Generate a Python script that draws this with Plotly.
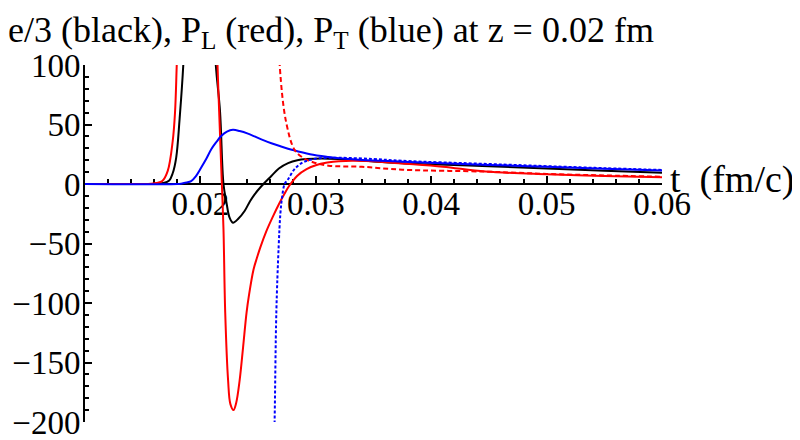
import numpy as np
import plotly.graph_objects as go

# e/3 (black)
t_e = [0.0100, 0.0155, 0.0163, 0.0168, 0.0173, 0.0176, 0.0179, 0.0182, 0.01856, 0.0192, 0.0200,
       0.0208, 0.02128, 0.0217, 0.0220, 0.02225, 0.02252, 0.02282, 0.0233, 0.02383, 0.0243, 0.0247,
       0.0253, 0.02615, 0.0268, 0.0276, 0.0284, 0.0292, 0.0305, 0.0320, 0.0350, 0.0375, 0.0400,
       0.0450, 0.0500, 0.0550, 0.0600]
e_black = [0, 0, 0.2, 0.8, 3, 9, 22, 55, 108, 300, 420,
           300, 108, 61, 0, -15, -28, -32.5, -29, -22.7, -14.5, -8.7,
           -1.7, 6.7, 13, 17.5, 20, 21, 21.5, 21, 19, 17.4, 16.5,
           15, 13, 11.2, 9.5]

# P_L (red, solid)
t_pl = [0.0100, 0.0150, 0.0157, 0.0162, 0.0167, 0.01717, 0.0176, 0.0178, 0.01795, 0.0185, 0.0195,
        0.0205, 0.0211, 0.02145, 0.02186, 0.0220, 0.02215, 0.0224, 0.0226, 0.02287, 0.0231, 0.0234,
        0.0237, 0.0240, 0.0242, 0.0246, 0.0249, 0.0252, 0.0257, 0.0263, 0.0268, 0.0273, 0.0277,
        0.0284, 0.0292, 0.0300, 0.0310, 0.0320, 0.0335, 0.0355, 0.0375, 0.0410, 0.0447, 0.0500,
        0.0550, 0.0600]
pl_red = [0, 0, 0.2, 0.8, 2.5, 11, 36, 60, 100, 280, 450,
          450, 250, 110, 0, -38, -108, -165, -185, -190, -184, -165,
          -137, -108, -94, -72, -62, -53, -40, -27, -17, -8, -1.5,
          7, 12.5, 15.8, 18, 19.2, 19.5, 18.7, 17.2, 14.5, 10.5, 8.2,
          6.8, 5.6]

# P_T (blue, solid)
t_pt = [0.0100, 0.0180, 0.01833, 0.0188, 0.0192, 0.0196, 0.02006, 0.0205, 0.02093, 0.0214, 0.0218,
        0.0223, 0.02282, 0.0234, 0.02412, 0.02528, 0.02615, 0.0270, 0.0280, 0.0295, 0.0311, 0.0325,
        0.0340, 0.0375, 0.0450, 0.0500, 0.0550, 0.0600]
pt_blue = [0, 0, 0.3, 1.2, 2.5, 6.5, 13.7, 21, 29, 35.5, 40.3,
           44, 45.5, 44.5, 42.3, 37.5, 34.2, 31.5, 28.6, 25, 22.7, 21.2,
           20.2, 18.8, 16, 14.5, 12.8, 11.3]

# P_L (red, dashed)
t_pl2 = [0.02645, 0.0266, 0.02687, 0.02745, 0.02817, 0.0289, 0.0297, 0.0311, 0.0340, 0.0375,
         0.0447, 0.0500, 0.0550, 0.0600]
pl2_red = [500, 200, 100, 51, 28.6, 22, 18.5, 15.4, 14.5, 12,
           10.4, 8.5, 7.2, 6.1]

# P_T (blue, dotted)
t_pt2 = [0.0263, 0.02643, 0.02658, 0.02678, 0.02693, 0.02708, 0.0273, 0.0276, 0.0282, 0.0290,
         0.0302, 0.0320, 0.0350, 0.0375, 0.0450, 0.0500, 0.0550, 0.0600]
pt2_blue = [-260, -200, -108, -53, -25, -11, 0, 4, 13, 18.7,
            21.5, 22, 21, 19.5, 16.8, 15, 13.3, 11.8]

x_ticks = [0.02, 0.03, 0.04, 0.05, 0.06]
y_ticks = [-200, -150, -100, -50, 0, 50, 100]

font = "Liberation Serif"

def curve(x, y, color, dash='solid'):
    return go.Scatter(x=x, y=y, mode='lines', hoverinfo='skip',
                      line=dict(color=color, width=2, dash=dash, shape='spline', smoothing=1.0))

fig = go.Figure()
fig.add_trace(curve(t_e, e_black, 'black'))
fig.add_trace(curve(t_pl, pl_red, '#ff0000'))
fig.add_trace(curve(t_pt, pt_blue, '#0000ff'))
fig.add_trace(curve(t_pl2, pl2_red, '#ff0000', '5px,3px'))
fig.add_trace(curve(t_pt2, pt2_blue, '#0000ff', '3px,2px'))

# page body has an 8px margin, so the figure is drawn 8px smaller and shifted
fig.update_layout(
    width=792, height=432,
    paper_bgcolor='white', plot_bgcolor='white',
    showlegend=False,
    margin=dict(l=77, r=138, t=57, b=18, autoexpand=False),
    font=dict(family=font, size=33, color='black'),
    title=dict(text="e/3 (black), P<sub>L</sub> (red), P<sub>T</sub> (blue) at z = 0.02 fm",
               xref='container', x=0.0, xanchor='left', pad=dict(l=0),
               yref='container', y=1 - 21 / 432, yanchor='middle',
               font=dict(family=font, size=36, color='black')),
    xaxis=dict(range=[0.01, 0.06], anchor='free', position=2/3, automargin=False,
               showgrid=False, zeroline=False,
               showline=True, linecolor='black', linewidth=2,
               tickmode='array', tickvals=x_ticks, ticktext=[f"{v:.2f}" for v in x_ticks],
               ticks='inside', ticklen=7, tickwidth=1.5, tickcolor='black',
               ticklabeloverflow='allow', ticklabelstandoff=-10,
               minor=dict(tickmode='array', tickvals=list(np.arange(0.012, 0.0601, 0.002)),
                          ticks='inside', ticklen=4, tickwidth=1.5, tickcolor='black'),
               layer='below traces'),
    yaxis=dict(range=[-200, 100], showgrid=False, zeroline=False, automargin=False,
               showline=True, linecolor='black', linewidth=2,
               tickmode='array', tickvals=y_ticks,
               ticks='inside', ticklen=7, tickwidth=1.5, tickcolor='black',
               ticklabeloverflow='allow', ticklabelstandoff=-4,
               minor=dict(dtick=10, ticks='inside', ticklen=4, tickwidth=1.5, tickcolor='black'),
               layer='below traces'),
)

fig.add_annotation(text="t&nbsp; (fm/c)", xref='paper', yref='paper', x=1, y=2/3,
                   xanchor='left', yanchor='middle', xshift=6, yshift=5,
                   showarrow=False, font=dict(family=font, size=38, color='black'))

fig.write_html("out.html")
